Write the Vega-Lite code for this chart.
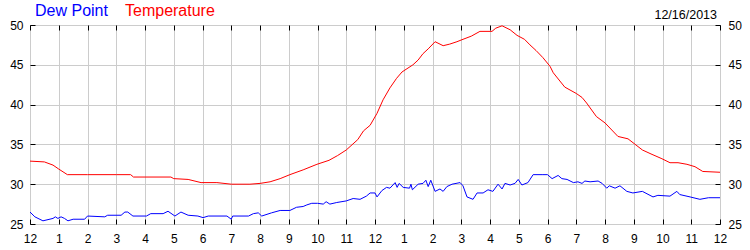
{
  "$schema": "https://vega.github.io/schema/vega-lite/v6.json",
  "width": 690,
  "height": 199,
  "autosize": "none",
  "padding": {"left": 30, "top": 25, "right": 30, "bottom": 26},
  "background": "white",
  "config": {
    "font": "Liberation Sans",
    "view": {"stroke": "black", "strokeWidth": 1},
    "axis": {"labelFont": "Liberation Sans", "labelFontSize": 12, "labelColor": "black", "tickColor": "black", "domain": false, "gridColor": "#cccccc", "gridOpacity": 1, "tickSize": -5, "title": null}
  },
  "title": {"text": "12/16/2013", "anchor": "end", "frame": "group", "fontSize": 12.5, "fontWeight": "normal", "color": "black", "font": "Liberation Sans", "offset": 0, "baseline": "alphabetic", "dy": 28, "dx": -3},
  "layer": [
    {
      "data": {"values": [
        {"h":0,"t":32.9},{"h":0.5,"t":32.8},{"h":0.8,"t":32.4},{"h":1.0,"t":31.9},{"h":1.3,"t":31.2},{"h":2.0,"t":31.2},{"h":3.0,"t":31.2},{"h":3.5,"t":31.2},{"h":3.6,"t":30.9},{"h":4.9,"t":30.9},{"h":5.0,"t":30.7},{"h":5.5,"t":30.6},{"h":5.95,"t":30.2},{"h":6.5,"t":30.2},{"h":7.0,"t":30.0},{"h":7.65,"t":30.0},{"h":8.0,"t":30.1},{"h":8.35,"t":30.3},{"h":8.7,"t":30.7},{"h":9.04,"t":31.2},{"h":9.5,"t":31.8},{"h":9.98,"t":32.5},{"h":10.4,"t":33.0},{"h":10.7,"t":33.6},{"h":11.0,"t":34.3},{"h":11.4,"t":35.6},{"h":11.6,"t":36.7},{"h":11.83,"t":37.4},{"h":12.07,"t":38.9},{"h":12.28,"t":40.6},{"h":12.52,"t":42.1},{"h":12.75,"t":43.3},{"h":12.94,"t":44.1},{"h":13.32,"t":45.0},{"h":13.5,"t":45.6},{"h":13.67,"t":46.4},{"h":13.85,"t":47.0},{"h":14.09,"t":47.9},{"h":14.37,"t":47.4},{"h":14.6,"t":47.6},{"h":14.85,"t":47.9},{"h":15.06,"t":48.2},{"h":15.35,"t":48.6},{"h":15.65,"t":49.2},{"h":16.07,"t":49.2},{"h":16.2,"t":49.6},{"h":16.42,"t":49.9},{"h":16.7,"t":49.4},{"h":16.94,"t":48.7},{"h":17.2,"t":48.2},{"h":17.39,"t":47.5},{"h":17.6,"t":46.8},{"h":17.84,"t":45.9},{"h":18.09,"t":44.8},{"h":18.2,"t":44.0},{"h":18.6,"t":42.2},{"h":19.0,"t":41.4},{"h":19.2,"t":40.9},{"h":19.36,"t":40.2},{"h":19.7,"t":38.5},{"h":20.0,"t":37.7},{"h":20.45,"t":36.0},{"h":20.8,"t":35.7},{"h":21.3,"t":34.3},{"h":21.6,"t":33.8},{"h":21.98,"t":33.2},{"h":22.26,"t":32.7},{"h":22.54,"t":32.7},{"h":22.85,"t":32.5},{"h":23.13,"t":32.2},{"h":23.4,"t":31.6},{"h":24,"t":31.5}
      ]},
      "mark": {"type": "line", "strokeWidth": 1, "interpolate": "linear"},
      "encoding": {
        "x": {"field": "h", "type": "quantitative", "scale": {"domain": [0, 24], "nice": false},
              "axis": {"orient": "bottom", "values": [0,1,2,3,4,5,6,7,8,9,10,11,12,13,14,15,16,17,18,19,20,21,22,23,24], "labelExpr": "datum.value % 12 == 0 ? '12' : '' + (datum.value % 12)", "labelPadding": 14, "grid": true, "labelFlush": false, "labelOverlap": false}},
        "y": {"field": "t", "type": "quantitative", "scale": {"domain": [25, 50], "nice": false, "zero": false},
              "axis": {"orient": "left", "values": [25,30,35,40,45,50], "labelPadding": 12, "grid": true, "labelBaseline": "middle"}},
        "color": {"datum": "Temperature", "type": "nominal",
                  "scale": {"domain": ["Dew Point", "Temperature"], "range": ["#0000ff", "#ff0000"]},
                  "legend": {"orient": "none", "legendX": -11, "legendY": -22, "direction": "horizontal", "title": null, "symbolSize": 0, "symbolStrokeWidth": 0, "symbolOpacity": 0, "labelOffset": 0, "labelFontSize": 16, "labelFont": "Liberation Sans", "columnPadding": 1, "gridAlign": "none", "padding": 0, "labelColor": {"expr": "datum.label == 'Dew Point' ? '#0000ff' : '#ff0000'"}}}
      }
    },
    {
      "data": {"values": [
        {"h":0,"d":26.5},{"h":0.17,"d":25.9},{"h":0.45,"d":25.4},{"h":0.8,"d":25.7},{"h":0.88,"d":25.9},{"h":0.97,"d":25.7},{"h":1.08,"d":25.9},{"h":1.2,"d":25.7},{"h":1.32,"d":25.4},{"h":1.5,"d":25.6},{"h":1.9,"d":25.6},{"h":2.0,"d":26.0},{"h":2.6,"d":25.9},{"h":2.7,"d":26.1},{"h":3.17,"d":26.1},{"h":3.3,"d":26.5},{"h":3.4,"d":26.5},{"h":3.58,"d":26.0},{"h":4.05,"d":26.0},{"h":4.2,"d":26.3},{"h":4.63,"d":26.3},{"h":4.8,"d":26.6},{"h":5.04,"d":26.0},{"h":5.25,"d":26.5},{"h":5.5,"d":26.1},{"h":5.84,"d":26.0},{"h":6.02,"d":25.8},{"h":6.2,"d":26.0},{"h":6.85,"d":26.0},{"h":7.0,"d":25.6},{"h":7.05,"d":26.0},{"h":7.6,"d":26.0},{"h":7.77,"d":26.3},{"h":7.94,"d":26.4},{"h":8.06,"d":26.0},{"h":8.4,"d":26.4},{"h":8.7,"d":26.7},{"h":9.04,"d":26.7},{"h":9.27,"d":27.1},{"h":9.5,"d":27.2},{"h":9.63,"d":27.4},{"h":9.8,"d":27.6},{"h":10.0,"d":27.6},{"h":10.2,"d":27.5},{"h":10.3,"d":27.8},{"h":10.43,"d":27.5},{"h":10.67,"d":27.7},{"h":11.0,"d":27.9},{"h":11.24,"d":28.2},{"h":11.48,"d":28.1},{"h":11.7,"d":28.5},{"h":11.83,"d":28.9},{"h":12.0,"d":28.9},{"h":12.07,"d":28.4},{"h":12.24,"d":29.2},{"h":12.4,"d":29.6},{"h":12.52,"d":29.5},{"h":12.7,"d":30.2},{"h":12.77,"d":29.6},{"h":12.84,"d":30.1},{"h":12.98,"d":29.6},{"h":13.2,"d":29.5},{"h":13.25,"d":30.0},{"h":13.3,"d":29.3},{"h":13.5,"d":30.0},{"h":13.67,"d":30.1},{"h":13.77,"d":30.5},{"h":13.85,"d":29.7},{"h":13.94,"d":30.5},{"h":14.09,"d":29.1},{"h":14.26,"d":29.4},{"h":14.37,"d":29.1},{"h":14.5,"d":29.7},{"h":14.68,"d":30.0},{"h":14.96,"d":30.2},{"h":15.06,"d":29.8},{"h":15.2,"d":28.4},{"h":15.41,"d":28.1},{"h":15.55,"d":28.9},{"h":15.76,"d":28.9},{"h":15.93,"d":29.3},{"h":16.1,"d":29.1},{"h":16.28,"d":30.0},{"h":16.42,"d":29.4},{"h":16.52,"d":30.1},{"h":16.7,"d":29.9},{"h":16.87,"d":30.1},{"h":16.98,"d":30.6},{"h":17.11,"d":29.9},{"h":17.32,"d":30.2},{"h":17.5,"d":31.2},{"h":17.67,"d":31.2},{"h":17.84,"d":31.2},{"h":18.0,"d":31.2},{"h":18.16,"d":30.7},{"h":18.37,"d":31.1},{"h":18.5,"d":30.7},{"h":18.68,"d":30.6},{"h":18.9,"d":30.2},{"h":19.06,"d":30.3},{"h":19.2,"d":30.1},{"h":19.3,"d":30.4},{"h":19.48,"d":30.3},{"h":19.76,"d":30.4},{"h":19.9,"d":30.1},{"h":20.06,"d":29.5},{"h":20.15,"d":29.8},{"h":20.35,"d":29.5},{"h":20.52,"d":29.8},{"h":20.76,"d":29.1},{"h":20.97,"d":28.9},{"h":21.3,"d":29.1},{"h":21.67,"d":28.4},{"h":21.84,"d":28.6},{"h":22.26,"d":28.5},{"h":22.5,"d":29.1},{"h":22.6,"d":28.7},{"h":22.96,"d":28.4},{"h":23.3,"d":28.1},{"h":23.6,"d":28.3},{"h":24,"d":28.3}
      ]},
      "mark": {"type": "line", "strokeWidth": 1, "interpolate": "linear"},
      "encoding": {
        "x": {"field": "h", "type": "quantitative", "scale": {"domain": [0, 24], "nice": false},
              "axis": {"orient": "top", "values": [0,1,2,3,4,5,6,7,8,9,10,11,12,13,14,15,16,17,18,19,20,21,22,23,24], "labels": false, "grid": false}},
        "y": {"field": "d", "type": "quantitative", "scale": {"domain": [25, 50], "nice": false, "zero": false},
              "axis": {"orient": "right", "values": [25,30,35,40,45,50], "labelPadding": 13, "grid": false, "labelBaseline": "middle"}},
        "color": {"datum": "Dew Point", "type": "nominal"}
      }
    }
  ],
  "resolve": {"axis": {"x": "independent", "y": "independent"}}
}
